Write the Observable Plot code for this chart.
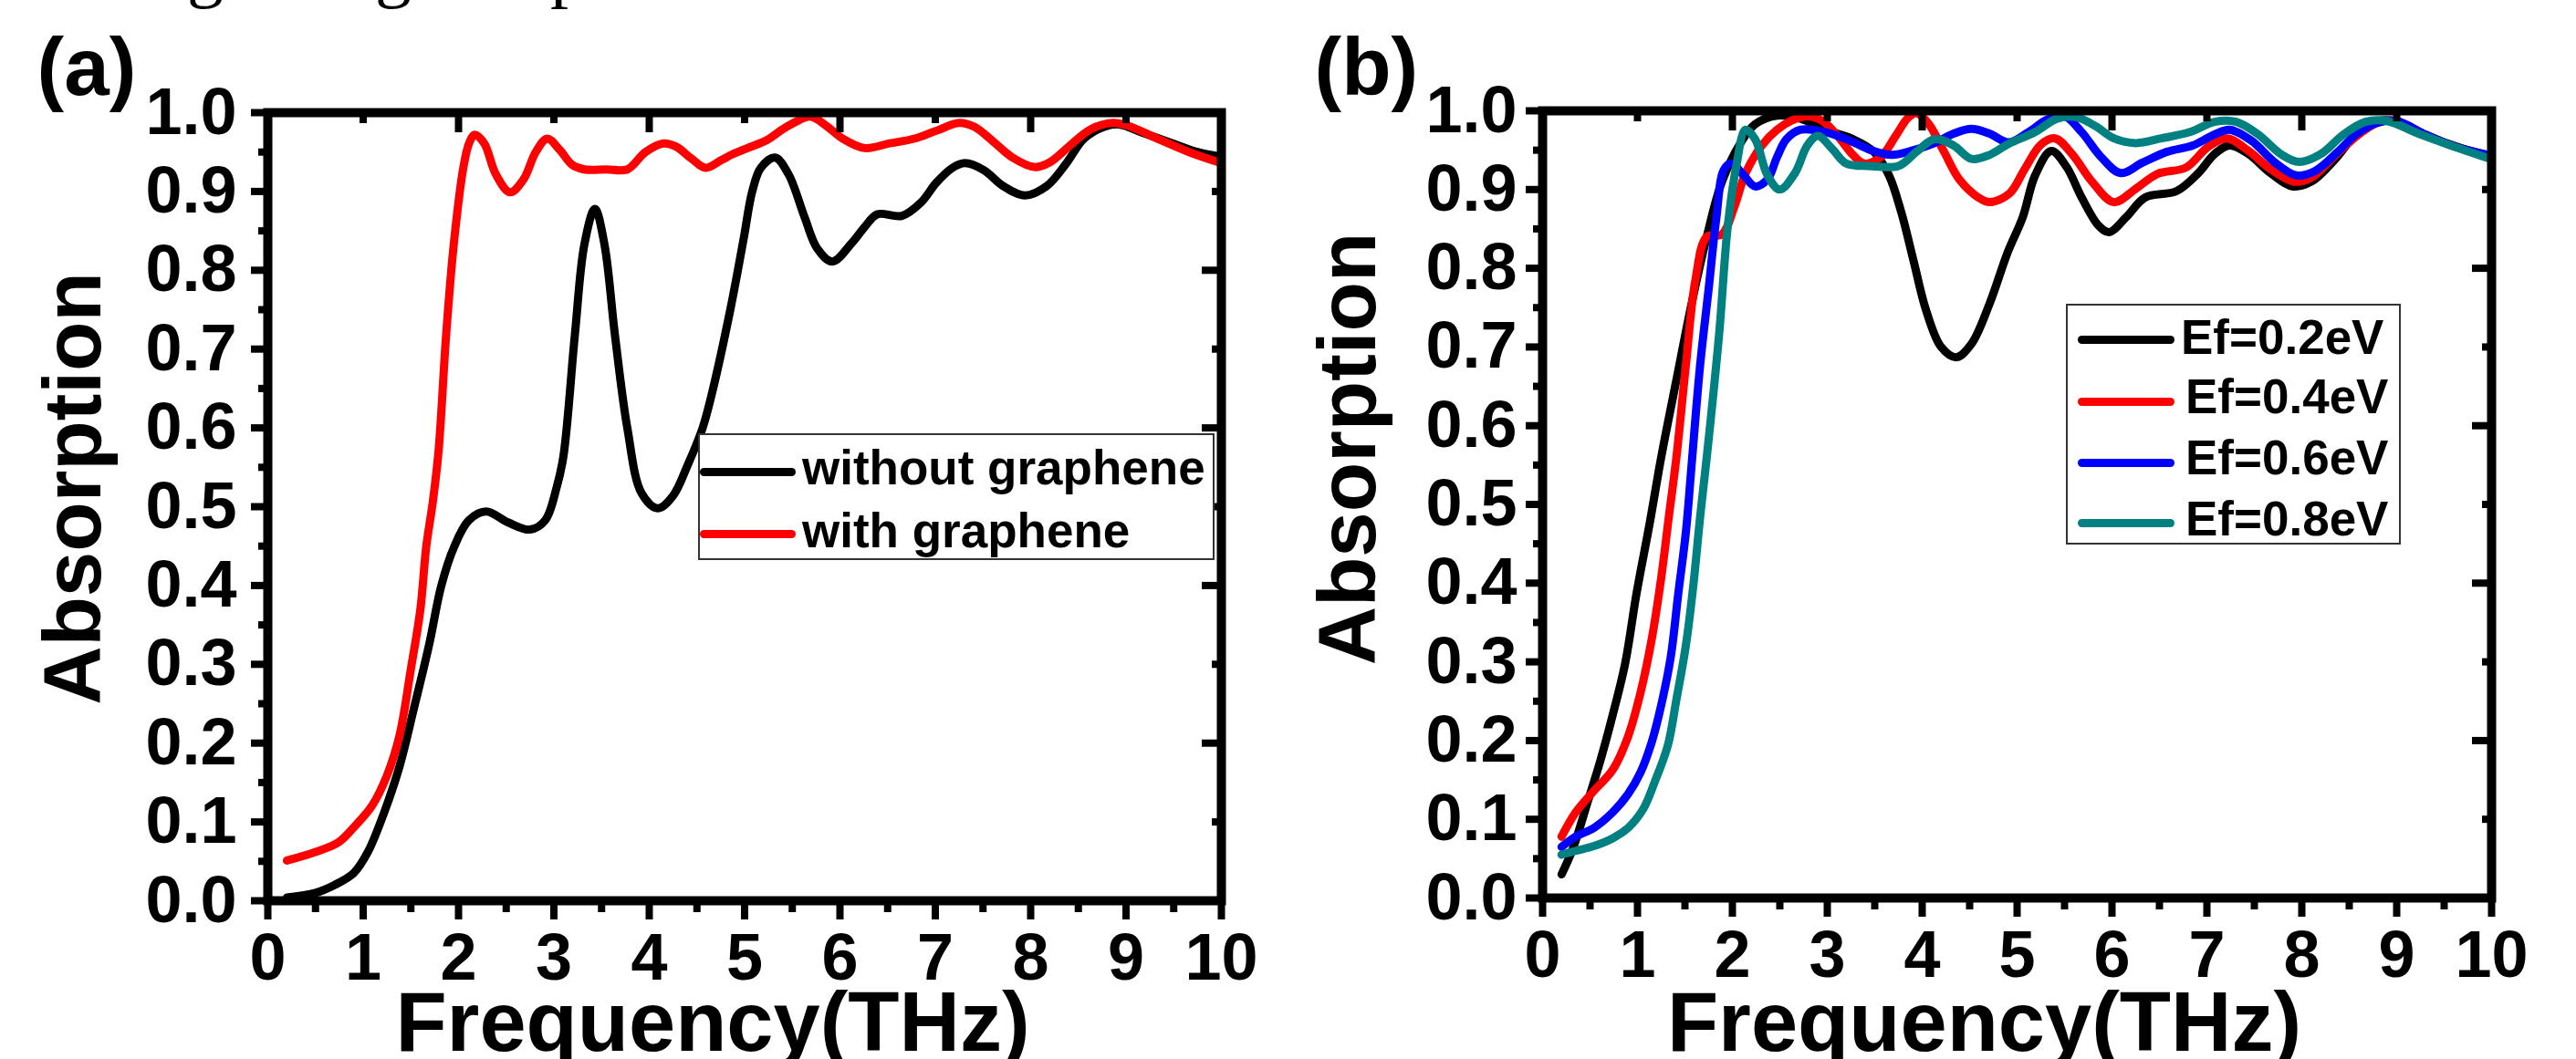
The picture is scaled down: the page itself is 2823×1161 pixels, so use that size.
<!DOCTYPE html>
<html>
<head>
<meta charset="utf-8">
<script src="https://cdn.jsdelivr.net/npm/d3@7"></script>
<script src="https://cdn.jsdelivr.net/npm/@observablehq/plot@0.6"></script>
<style>
  html, body { margin: 0; padding: 0; background: #fff; }
  body { width: 2823px; height: 1161px; overflow: hidden; position: relative; font-family: "Liberation Sans", Arial, sans-serif; }
  .abs { position: absolute; }
  .frag { position: absolute; font-family: "Liberation Serif", "Times New Roman", serif; font-size: 80px; line-height: 1; color: #000; }
  .legbox { position: absolute; border: 2px solid #333; background: #fff; box-sizing: border-box; }
  .sw { position: absolute; height: 9px; border-radius: 4.5px; }
  .lt { position: absolute; font-size: 53px; font-weight: bold; line-height: 1; white-space: nowrap; color: #000; }
</style>
</head>
<body>
<div class="frag" style="left:205px;top:-74px">g</div>
<div class="frag" style="left:411px;top:-74px">g</div>
<div class="frag" style="left:603px;top:-74px">p</div>
<div id="pa" class="abs" style="left:0;top:0"></div>
<div id="pb" class="abs" style="left:1400px;top:0"></div>
<div id="legends"></div>
<script>
// ---------- Panel (a) data ----------
const fWithout = [0.2, 0.5, 0.7, 0.9, 1.05, 1.22, 1.38, 1.53, 1.69, 1.82, 1.95, 2.11, 2.29, 2.52, 2.75, 2.91, 3.03, 3.1, 3.22, 3.32, 3.43, 3.53, 3.64, 3.77, 3.92, 4.09, 4.25, 4.4, 4.56, 4.66, 4.85, 4.99, 5.08, 5.17, 5.32, 5.46, 5.63, 5.76, 5.92, 6.12, 6.26, 6.39, 6.65, 6.85, 7.01, 7.18, 7.31, 7.51, 7.71, 7.94, 8.17, 8.37, 8.56, 8.77, 8.93, 9.16, 9.49, 9.75, 10.0];
const aWithout = [0.004, 0.01, 0.02, 0.035, 0.062, 0.112, 0.17, 0.243, 0.324, 0.40, 0.448, 0.483, 0.494, 0.48, 0.471, 0.483, 0.525, 0.564, 0.718, 0.833, 0.878, 0.833, 0.718, 0.60, 0.517, 0.498, 0.514, 0.552, 0.6, 0.645, 0.75, 0.84, 0.90, 0.93, 0.943, 0.922, 0.867, 0.828, 0.811, 0.834, 0.855, 0.871, 0.869, 0.886, 0.911, 0.93, 0.936, 0.927, 0.907, 0.895, 0.907, 0.935, 0.967, 0.982, 0.985, 0.975, 0.961, 0.95, 0.944];

const fWith = [0.2, 0.5, 0.74, 0.93, 1.09, 1.25, 1.38, 1.5, 1.6, 1.66, 1.73, 1.79, 1.87, 1.95, 2.05, 2.11, 2.17, 2.27, 2.39, 2.54, 2.68, 2.81, 2.93, 3.06, 3.19, 3.32, 3.55, 3.77, 3.96, 4.15, 4.28, 4.44, 4.59, 4.76, 4.87, 5.03, 5.23, 5.4, 5.53, 5.69, 5.86, 6.03, 6.26, 6.52, 6.78, 7.01, 7.25, 7.41, 7.61, 7.81, 8.04, 8.2, 8.4, 8.63, 8.86, 9.03, 9.33, 9.66, 10.0];
const aWith = [0.051, 0.062, 0.074, 0.097, 0.12, 0.159, 0.209, 0.294, 0.37, 0.448, 0.506, 0.57, 0.718, 0.833, 0.93, 0.961, 0.972, 0.961, 0.922, 0.899, 0.915, 0.95, 0.967, 0.953, 0.934, 0.928, 0.928, 0.928, 0.95, 0.961, 0.957, 0.942, 0.93, 0.94, 0.947, 0.955, 0.965, 0.979, 0.988, 0.995, 0.983, 0.967, 0.955, 0.961, 0.967, 0.977, 0.987, 0.982, 0.963, 0.943, 0.931, 0.937, 0.957, 0.979, 0.987, 0.983, 0.967, 0.95, 0.936];

// ---------- Panel (b) data ----------
const fEf02 = [0.2, 0.32, 0.48, 0.61, 0.74, 0.87, 0.99, 1.13, 1.25, 1.41, 1.57, 1.73, 1.89, 2.09, 2.24, 2.47, 2.72, 2.98, 3.27, 3.49, 3.65, 3.78, 3.91, 4.04, 4.2, 4.36, 4.52, 4.71, 4.9, 5.06, 5.19, 5.36, 5.52, 5.68, 5.86, 5.97, 6.15, 6.35, 6.68, 6.91, 7.08, 7.24, 7.44, 7.67, 7.9, 8.1, 8.34, 8.57, 8.77, 8.97, 9.23, 9.57, 9.96];
const aEf02 = [0.03, 0.063, 0.124, 0.175, 0.233, 0.298, 0.387, 0.477, 0.56, 0.658, 0.755, 0.84, 0.91, 0.96, 0.983, 0.994, 0.99, 0.976, 0.964, 0.948, 0.918, 0.871, 0.809, 0.747, 0.70, 0.687, 0.704, 0.755, 0.82, 0.865, 0.918, 0.949, 0.929, 0.89, 0.854, 0.846, 0.865, 0.89, 0.898, 0.921, 0.945, 0.956, 0.945, 0.921, 0.904, 0.91, 0.937, 0.97, 0.986, 0.987, 0.973, 0.957, 0.942];

const fEf04 = [0.2, 0.35, 0.54, 0.74, 0.9, 1.03, 1.15, 1.25, 1.33, 1.41, 1.51, 1.61, 1.73, 1.89, 2.02, 2.14, 2.31, 2.47, 2.63, 2.79, 2.95, 3.11, 3.27, 3.39, 3.56, 3.72, 3.85, 3.94, 4.07, 4.23, 4.39, 4.59, 4.71, 4.92, 5.08, 5.25, 5.4, 5.58, 5.79, 6.02, 6.25, 6.48, 6.78, 7.01, 7.21, 7.44, 7.67, 7.92, 8.1, 8.34, 8.6, 8.8, 9.0, 9.3, 9.6, 9.96];
const aEf04 = [0.078, 0.109, 0.136, 0.163, 0.205, 0.26, 0.329, 0.407, 0.484, 0.56, 0.677, 0.785, 0.84, 0.843, 0.878, 0.921, 0.956, 0.976, 0.988, 0.993, 0.987, 0.968, 0.944, 0.933, 0.941, 0.968, 0.991, 0.997, 0.983, 0.948, 0.913, 0.89, 0.884, 0.895, 0.926, 0.957, 0.965, 0.945, 0.91, 0.884, 0.901, 0.92, 0.928, 0.954, 0.965, 0.949, 0.926, 0.91, 0.915, 0.942, 0.97, 0.985, 0.987, 0.97, 0.955, 0.944];

const fEf06 = [0.2, 0.35, 0.54, 0.74, 0.9, 1.03, 1.15, 1.25, 1.35, 1.43, 1.51, 1.57, 1.66, 1.75, 1.83, 1.91, 1.99, 2.12, 2.24, 2.37, 2.47, 2.57, 2.72, 2.98, 3.24, 3.46, 3.68, 3.91, 4.13, 4.33, 4.52, 4.71, 4.91, 5.12, 5.32, 5.5, 5.68, 5.88, 6.09, 6.32, 6.58, 6.85, 7.08, 7.24, 7.47, 7.71, 7.94, 8.13, 8.38, 8.57, 8.8, 9.0, 9.3, 9.6, 9.96];
const aEf06 = [0.065, 0.078, 0.089, 0.109, 0.132, 0.159, 0.198, 0.245, 0.306, 0.387, 0.465, 0.55, 0.677, 0.774, 0.863, 0.925, 0.933, 0.918, 0.904, 0.913, 0.941, 0.964, 0.976, 0.973, 0.962, 0.95, 0.944, 0.95, 0.959, 0.971, 0.977, 0.971, 0.96, 0.973, 0.989, 0.993, 0.973, 0.942, 0.921, 0.934, 0.948, 0.956, 0.97, 0.976, 0.962, 0.935, 0.918, 0.923, 0.948, 0.97, 0.985, 0.987, 0.97, 0.955, 0.944];

const fEf08 = [0.2, 0.35, 0.54, 0.74, 0.9, 1.06, 1.18, 1.32, 1.41, 1.51, 1.59, 1.66, 1.73, 1.86, 1.95, 2.04, 2.14, 2.24, 2.37, 2.5, 2.66, 2.79, 2.9, 3.05, 3.2, 3.43, 3.75, 3.94, 4.13, 4.33, 4.52, 4.71, 4.91, 5.19, 5.42, 5.62, 5.82, 6.02, 6.25, 6.52, 6.82, 7.08, 7.31, 7.54, 7.78, 7.97, 8.2, 8.44, 8.67, 8.9, 9.23, 9.57, 9.96];
const aEf08 = [0.055, 0.06, 0.066, 0.076, 0.089, 0.113, 0.147, 0.194, 0.252, 0.321, 0.399, 0.484, 0.56, 0.716, 0.852, 0.929, 0.976, 0.964, 0.918, 0.90, 0.921, 0.956, 0.968, 0.952, 0.933, 0.93, 0.93, 0.948, 0.964, 0.956, 0.939, 0.944, 0.958, 0.973, 0.99, 0.992, 0.981, 0.965, 0.959, 0.965, 0.973, 0.986, 0.986, 0.97, 0.945, 0.935, 0.945, 0.97, 0.986, 0.987, 0.971, 0.956, 0.94];

// ---------- Labels and ticks ----------
const seriesA = ["without graphene", "with graphene"];
const seriesB = ["Ef=0.2eV", "Ef=0.4eV", "Ef=0.6eV", "Ef=0.8eV"];
const colorsA = ["#000000", "#ff0000"];
const colorsB = ["#000000", "#ff0000", "#0000ff", "#008080"];
const xLabel = "Frequency(THz)";
const yLabel = "Absorption";
const panelLabels = ["(a)", "(b)"];

const xMajorTicks = [0, 1, 2, 3, 4, 5, 6, 7, 8, 9, 10];
const xMinorTicks = [0.5, 1.5, 2.5, 3.5, 4.5, 5.5, 6.5, 7.5, 8.5, 9.5];
const xTopMajor = [0, 2, 4, 6, 8, 10];
const xTopMinor = [1, 3, 5, 7, 9];
const yMajorTicks = [0, 0.1, 0.2, 0.3, 0.4, 0.5, 0.6, 0.7, 0.8, 0.9, 1.0];
const yMinorTicks = [0.05, 0.15, 0.25, 0.35, 0.45, 0.55, 0.65, 0.75, 0.85, 0.95];
const yRightMajor = [0, 0.2, 0.4, 0.6, 0.8, 1.0];
const yRightMinor = [0.1, 0.3, 0.5, 0.7, 0.9];

const zip = (fs, vs, name) => fs.map((f, i) => ({f, v: vs[i], name}));

function panel({data, names, colors, width, mL, mR, mT, mB, label, yPad, yLabDy, xLabDx}) {
  const tickW = 8;
  return Plot.plot({
    width, height: 1161,
    marginLeft: mL, marginRight: mR, marginTop: mT, marginBottom: mB,
    style: {fontFamily: "'Liberation Sans', Arial, sans-serif", background: "transparent", overflow: "visible", color: "#000"},
    x: {domain: [0, 10]},
    y: {domain: [0, 1]},
    color: {domain: names, range: colors},
    marks: [
      ...data.map(d => Plot.line(d, {x: "f", y: "v", stroke: "name", strokeWidth: 9, curve: "catmull-rom", strokeLinecap: "round", strokeLinejoin: "round"})),
      Plot.frame({stroke: "#000", strokeWidth: 10}),
      Plot.axisX(xMajorTicks, {anchor: "bottom", tickSize: 21, tickPadding: 14, strokeWidth: tickW, fontSize: 72, fontWeight: "bold", tickFormat: d => String(d), label: null}),
      Plot.axisX(xMinorTicks, {anchor: "bottom", tickSize: 13, strokeWidth: tickW, fill: "none", label: null}),
      Plot.axisX(xTopMajor, {anchor: "bottom", frameAnchor: "top", tickSize: 22, strokeWidth: tickW, fill: "none", label: null}),
      Plot.axisX(xTopMinor, {anchor: "bottom", frameAnchor: "top", tickSize: 12, strokeWidth: tickW, fill: "none", label: null}),
      Plot.axisY(yMajorTicks, {anchor: "left", tickSize: 18, tickPadding: yPad, strokeWidth: tickW, fontSize: 72, fontWeight: "bold", tickFormat: d3.format(".1f"), label: null}),
      Plot.axisY(yMinorTicks, {anchor: "left", tickSize: 10, strokeWidth: tickW, fill: "none", label: null}),
      Plot.axisY(yRightMajor, {anchor: "left", frameAnchor: "right", tickSize: 21, strokeWidth: tickW, fill: "none", label: null}),
      Plot.axisY(yRightMinor, {anchor: "left", frameAnchor: "right", tickSize: 10, strokeWidth: tickW, fill: "none", label: null}),
      Plot.text([xLabel], {frameAnchor: "bottom", lineAnchor: "bottom", textAnchor: "middle", dx: xLabDx, dy: 1151 - (1161 - mB), fontSize: 92, fontWeight: "bold"}),
      Plot.text([yLabel], {frameAnchor: "left", lineAnchor: "bottom", textAnchor: "middle", rotate: -90, dx: -184, dy: yLabDy, fontSize: 89, fontWeight: "bold"}),
      Plot.text([label], {frameAnchor: "top-left", lineAnchor: "bottom", textAnchor: "start", dx: 40 - mL, dy: 103 - mT, fontSize: 89, fontWeight: "bold"})
    ]
  });
}

const dataA = [zip(fWithout, aWithout, seriesA[0]), zip(fWith, aWith, seriesA[1])];
const dataB = [zip(fEf02, aEf02, seriesB[0]), zip(fEf04, aEf04, seriesB[1]), zip(fEf06, aEf06, seriesB[2]), zip(fEf08, aEf08, seriesB[3])];

document.getElementById("pa").append(panel({
  data: dataA, names: seriesA, colors: colorsA, width: 1400,
  mL: 293, mR: 1400 - 1338, mT: 123, mB: 1161 - 987,
  label: panelLabels[0], yPad: 16, yLabDy: 535 - 555, xLabDx: -35
}));
document.getElementById("pb").append(panel({
  data: dataB, names: seriesB, colors: colorsB, width: 1423,
  mL: 290, mR: 1423 - 1330, mT: 121, mB: 1161 - 984,
  label: panelLabels[1], yPad: 10, yLabDy: 491 - 552, xLabDx: -36
}));

// ---------- Legends ----------
const leg = document.getElementById("legends");
function addLegend(box, items) {
  const b = document.createElement("div");
  b.className = "legbox";
  Object.assign(b.style, {left: box.x + "px", top: box.y + "px", width: box.w + "px", height: box.h + "px"});
  leg.append(b);
  items.forEach(it => {
    const s = document.createElement("div");
    s.className = "sw";
    Object.assign(s.style, {left: it.sx + "px", top: (it.sy - 4.5) + "px", width: it.sw + "px", background: it.color});
    leg.append(s);
    const t = document.createElement("div");
    t.className = "lt";
    t.textContent = it.text;
    Object.assign(t.style, {left: it.tx + "px", top: (it.base - 45) + "px"});
    leg.append(t);
  });
}
addLegend({x: 765, y: 475, w: 566, h: 139}, [
  {text: seriesA[0], color: colorsA[0], sx: 767, sy: 517, sw: 105, tx: 879, base: 531},
  {text: seriesA[1], color: colorsA[1], sx: 767, sy: 585, sw: 105, tx: 879, base: 600}
]);
addLegend({x: 2264, y: 333, w: 367, h: 264}, [
  {text: seriesB[0], color: colorsB[0], sx: 2277, sy: 372, sw: 106, tx: 2390, base: 388},
  {text: seriesB[1], color: colorsB[1], sx: 2277, sy: 440, sw: 106, tx: 2395, base: 453},
  {text: seriesB[2], color: colorsB[2], sx: 2277, sy: 507, sw: 106, tx: 2395, base: 520},
  {text: seriesB[3], color: colorsB[3], sx: 2277, sy: 573, sw: 106, tx: 2395, base: 587}
]);
</script>
</body>
</html>
